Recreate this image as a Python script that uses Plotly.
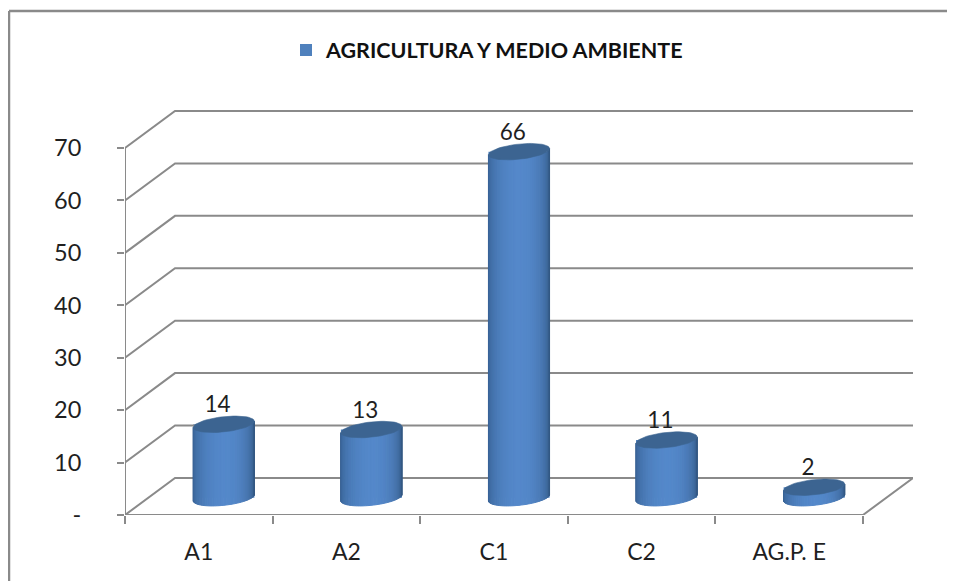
import math
import plotly.graph_objects as go

categories = ["A1", "A2", "C1", "C2", "AG.P. E"]
values = [14, 13, 66, 11, 2]
y_ticks = [0, 10, 20, 30, 40, 50, 60, 70]
y_labels = ["-", "10", "20", "30", "40", "50", "60", "70"]
series_name = "AGRICULTURA Y MEDIO AMBIENTE"

GRID = "#8a8a8a"
FONT = "Lato, Carlito, 'Noto Sans', sans-serif"
DX, DY = 0.339, 7.06        # depth of the 3-D box, in axis units
BASE = 3.3                  # cylinders stand in the middle of the floor
A, B, T = 0.207, 1.45, 0.6  # ellipse half width, half height, tilt
N = 40
positions = list(range(len(categories)))
x_left, x_right = -0.5, len(categories) - 0.5


def mix(c1, c2, t):
    return "#%02x%02x%02x" % tuple(round(a + (b - a) * t) for a, b in zip(c1, c2))


def band_colour(u):
    # u in 0..1 from left to right round the front of the cylinder
    dark_l, light, dark_r = (52, 92, 140), (84, 136, 202), (50, 86, 128)
    peak = 0.52
    if u < peak:
        return mix(dark_l, light, math.sin(u / peak * math.pi / 2))
    return mix(dark_r, light, math.sin((1 - u) / (1 - peak) * math.pi / 2))


fig = go.Figure()

# box: back wall lines and their side-wall diagonals
for v in y_ticks:
    fig.add_trace(go.Scatter(
        x=[x_left, x_left + DX, x_right + DX], y=[v, v + DY, v + DY],
        mode="lines", line=dict(color=GRID, width=2), showlegend=False, hoverinfo="skip"))
fig.add_trace(go.Scatter(
    x=[x_left, x_right, x_right + DX], y=[0, 0, DY],
    mode="lines", line=dict(color=GRID, width=2), showlegend=False, hoverinfo="skip"))
fig.add_trace(go.Scatter(
    x=[x_left, x_left], y=[0, 70],
    mode="lines", line=dict(color=GRID, width=2), showlegend=False, hoverinfo="skip"))

# real bars: they carry the legend entry and sit under the shaded cylinders
fig.add_trace(go.Bar(
    x=[p + DX / 2 for p in positions], y=values, base=[BASE] * len(values),
    width=2 * A, marker=dict(color="#4f81bd", line=dict(width=0)),
    name=series_name, showlegend=True))

# shaded cylinder fronts, one trace per colour band
for i in range(N):
    t1 = math.pi + math.pi * i / N
    t2 = math.pi + math.pi * (i + 1) / N
    xs, ys = [], []
    for p, v in zip(positions, values):
        cx = p + DX / 2
        x1, x2 = cx + A * math.cos(t1), cx + A * math.cos(t2)
        low1 = BASE + B * math.sin(t1) + T * math.cos(t1)
        low2 = BASE + B * math.sin(t2) + T * math.cos(t2)
        xs += [x1, x2, x2, x1, x1, None]
        ys += [low1, low2, low2 + v, low1 + v, low1, None]
    colour = band_colour((i + 0.5) / N)
    fig.add_trace(go.Scatter(
        x=xs, y=ys, mode="lines", fill="toself", fillcolor=colour,
        line=dict(color=colour, width=1), showlegend=False, hoverinfo="skip"))

# top ellipses
xs, ys = [], []
for p, v in zip(positions, values):
    cx = p + DX / 2
    for k in range(61):
        t = 2 * math.pi * k / 60
        xs.append(cx + A * math.cos(t))
        ys.append(BASE + v + B * math.sin(t) + T * math.cos(t))
    xs.append(None)
    ys.append(None)
fig.add_trace(go.Scatter(
    x=xs, y=ys, mode="lines", fill="toself", fillcolor="#3c6491",
    line=dict(color="#3c6491", width=0.6), showlegend=False, hoverinfo="skip"))

# data labels
fig.add_trace(go.Scatter(
    x=[p + DX / 2 - 0.042 for p in positions],
    y=[BASE + v + 3.35 for v in values],
    text=[str(v) for v in values], mode="text", textposition="middle center",
    textfont=dict(family=FONT, size=22.5, color="#1f1f1f"),
    showlegend=False, hoverinfo="skip"))

# the page adds an 8 px body margin, so the figure is 8 px smaller than the window
fig.update_layout(
    width=947, height=573,
    margin=dict(l=117, r=42, t=102, b=66, autoexpand=False),
    paper_bgcolor="white", plot_bgcolor="white",
    barmode="overlay",
    font=dict(family=FONT, color="#1f1f1f"),
    legend=dict(
        x=(286 - 125) / 788, xanchor="left", y=1 + (110 - 50) / 405, yanchor="middle",
        orientation="h", bgcolor="rgba(0,0,0,0)",
        font=dict(family=FONT, size=21.5, color="#111111", weight="bold"),
    ),
    xaxis=dict(
        range=[x_left, x_right + DX], showgrid=False, zeroline=False, showline=False,
        tickvals=positions, ticktext=categories, ticks="", ticklabelstandoff=21,
        tickfont=dict(family=FONT, size=23, color="#1f1f1f"),
        minor=dict(tick0=-0.5, dtick=1, ticks="outside", ticklen=8, tickwidth=2,
                   tickcolor=GRID, showgrid=False),
    ),
    yaxis=dict(
        range=[0, 405 / 5.243], showgrid=False, zeroline=False, showline=False,
        tickvals=y_ticks, ticktext=y_labels, ticks="outside", ticklen=7, tickwidth=2,
        tickcolor=GRID, ticklabelstandoff=31,
        tickfont=dict(family=FONT, size=23.5, color="#1f1f1f"),
    ),
    shapes=[
        dict(type="line", xref="paper", yref="paper",
             x0=(9 - 125) / 788, x1=(955 - 125) / 788,
             y0=(515 - 11) / 405, y1=(515 - 11) / 405,
             line=dict(color="#8a8a8a", width=2.5)),
        dict(type="line", xref="paper", yref="paper",
             x0=(9 - 125) / 788, x1=(9 - 125) / 788,
             y0=(515 - 11) / 405, y1=(515 - 581) / 405,
             line=dict(color="#8a8a8a", width=2.5)),
    ],
)

fig.write_html("out.html")
